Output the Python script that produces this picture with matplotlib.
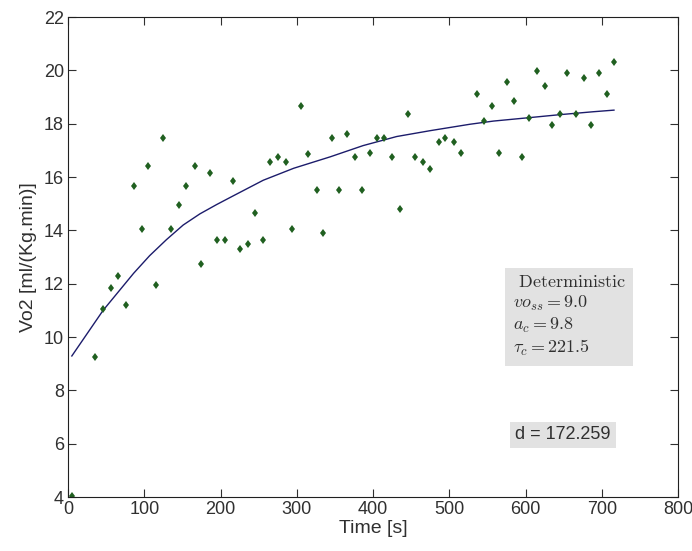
import matplotlib.pyplot as plt

plt.rcParams['mathtext.fontset'] = 'cm'
plt.rcParams['font.family'] = ['Liberation Sans', 'DejaVu Sans']

# measured VO2 samples
time_s = [5, 36, 46, 56, 65, 76, 86, 97, 105, 116, 125, 135, 146, 155, 166,
          175, 186, 195, 206, 216, 225, 236, 245, 256, 265, 276, 286, 294,
          306, 315, 326, 335, 346, 355, 366, 376, 385, 396, 405, 415, 425,
          436, 446, 455, 465, 475, 486, 495, 506, 515, 536, 545, 556, 565,
          576, 585, 596, 605, 615, 626, 635, 645, 655, 666, 677, 686, 696,
          707, 716]
vo2 = [4.04, 9.26, 11.04, 11.85, 12.29, 11.21, 15.67, 14.04, 16.42, 11.95,
       17.48, 14.04, 14.95, 15.67, 16.42, 12.74, 16.15, 13.64, 13.64, 15.84,
       13.31, 13.48, 14.64, 13.64, 16.56, 16.74, 16.56, 14.06, 18.67, 16.88,
       15.51, 13.89, 17.48, 15.51, 17.63, 16.74, 15.51, 16.89, 17.48, 17.48,
       16.74, 14.79, 18.36, 16.74, 16.55, 16.30, 17.33, 17.48, 17.31, 16.89,
       19.10, 18.11, 18.67, 16.89, 19.58, 18.84, 16.74, 18.21, 19.98, 19.41,
       17.94, 18.36, 19.89, 18.36, 19.73, 17.94, 19.89, 19.10, 20.30]

# deterministic model curve
model_t = [5, 46, 86, 107, 129, 151, 173, 195, 217, 256, 296, 344, 387, 431,
           475, 527, 558, 602, 645, 689, 716]
model_v = [9.29, 11.0, 12.39, 13.05, 13.65, 14.2, 14.62, 14.97, 15.3, 15.88,
           16.33, 16.76, 17.18, 17.52, 17.74, 17.98, 18.1, 18.22, 18.34,
           18.45, 18.51]

fig = plt.figure(figsize=(6.92, 5.51), dpi=100)
ax = fig.add_axes([0.0983, 0.098, 0.8815, 0.871])

ax.plot(model_t, model_v, color='#1c1c6b', linewidth=1.0)
ax.plot(time_s, vo2, linestyle='none', marker='d', markersize=4.5,
        color='#206020', markeredgewidth=0)

ax.set_xlim(0, 800)
ax.set_ylim(4, 22)
ax.set_xticks(range(0, 801, 100))
ax.set_yticks(range(4, 23, 2))
ax.tick_params(direction='in', length=6, top=True, right=True,
               labelsize=13, colors='#303030', pad=3)
for s in ax.spines.values():
    s.set_color('#202020')

ax.set_xlabel('Time [s]', fontsize=14, labelpad=1, color='#303030')
ax.set_ylabel('Vo2 [ml/(Kg.min)]', fontsize=14, labelpad=5, color='#303030')

box_txt = ('$\\ \\mathrm{Deterministic}$\n$vo_{ss} = 9.0$\n'
           '$a_c = 9.8$\n$\\tau_c = 221.5$')
ax.text(583, 10.78, box_txt, fontsize=13, ha='left', va='center',
        multialignment='left', linespacing=1.2, color='#303030',
        bbox=dict(facecolor='#e2e2e2', edgecolor='none', pad=5.5))
ax.text(649, 6.33, 'd = 172.259', fontsize=13, ha='center', va='center',
        color='#303030',
        bbox=dict(facecolor='#e2e2e2', edgecolor='none', pad=3.5))

fig.savefig('out.png', dpi=100)
